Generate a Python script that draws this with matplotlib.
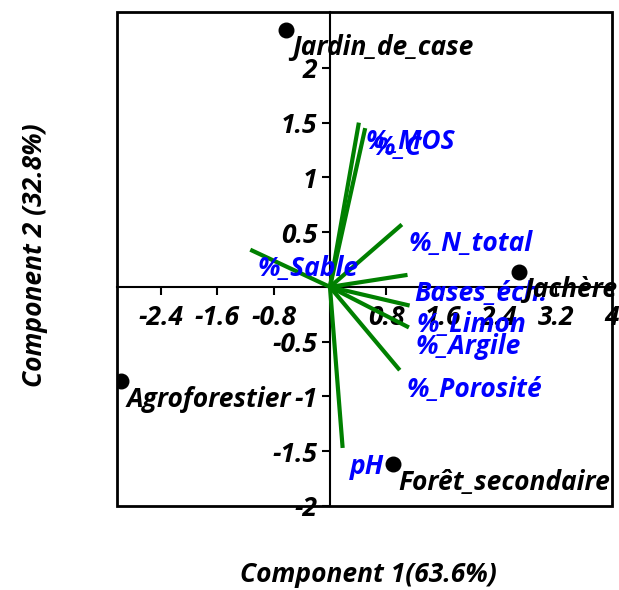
import matplotlib
matplotlib.use('Agg')
import matplotlib.pyplot as plt
from matplotlib.patches import Rectangle

# individus (scores)
sites = ['Jardin_de_case', 'Jachère', 'Agroforestier', 'Forêt_secondaire']
site_x = [-0.62, 2.68, -2.97, 0.89]
site_y = [2.35, 0.14, -0.86, -1.62]

# variables (loadings)
variables = ['%_MOS', '%_C', '%_N_total', '%_Sable', 'Bases_éch.',
             '%_Limon', '%_Argile', '%_Porosité', 'pH']
var_x = [0.41, 0.50, 1.02, -1.13, 1.10, 1.13, 1.12, 0.99, 0.18]
var_y = [1.50, 1.45, 0.57, 0.34, 0.11, -0.17, -0.37, -0.76, -1.47]

xticks = [-2.4, -1.6, -0.8, 0.8, 1.6, 2.4, 3.2, 4]
yticks = [-2, -1.5, -1, -0.5, 0.5, 1, 1.5, 2]

plt.rcParams['font.family'] = ['Open Sans', 'DejaVu Sans']
font = dict(fontsize=19, fontweight='bold', fontstyle='italic')

fig = plt.figure(figsize=(6.19, 5.90), dpi=100)
ax = fig.add_axes([117/619, 1 - 506/590, (612-117)/619, (506-12)/590])
ax.set_xlim(-3.02, 4.0)
ax.set_ylim(-2.0, 2.51)

# axes through the origin
for s in ['top', 'right']:
    ax.spines[s].set_visible(False)
ax.spines['left'].set_position(('data', 0))
ax.spines['bottom'].set_position(('data', 0))
ax.spines['left'].set_linewidth(1.5)
ax.spines['bottom'].set_linewidth(1.5)
ax.add_patch(Rectangle((0, 0), 1, 1, transform=ax.transAxes, fill=False,
                       lw=2, ec='black', clip_on=False, zorder=5))

ax.set_xticks(xticks)
ax.set_xticklabels(['%g' % t for t in xticks], **font)
ax.set_yticks(yticks)
ax.set_yticklabels(['%g' % t for t in yticks], **font)
ax.tick_params(axis='x', direction='out', length=6, width=1.5, pad=6)
ax.tick_params(axis='y', direction='out', length=6, width=1.5, pad=3)

# vecteurs
for name, x, y in zip(variables, var_x, var_y):
    ax.plot([0, x], [0, y], color='green', lw=3, solid_capstyle='butt', zorder=3)
    ax.annotate(name, (x, y), xytext=(5, -13.7), textcoords='offset points',
                ha='left', va='center', color='blue', **font)

# individus
ax.scatter(site_x, site_y, s=110, color='black', zorder=4)
for name, x, y in zip(sites, site_x, site_y):
    ax.annotate(name, (x, y), xytext=(4, -13), textcoords='offset points',
                ha='left', va='center', color='black', **font)

fig.text(368/619, 1 - 575/590, 'Component 1(63.6%)', ha='center', va='center', **font)
fig.text(35/619, 1 - 255/590, 'Component 2 (32.8%)', ha='center', va='center',
         rotation=90, **font)

fig.savefig('out.png', dpi=100)
